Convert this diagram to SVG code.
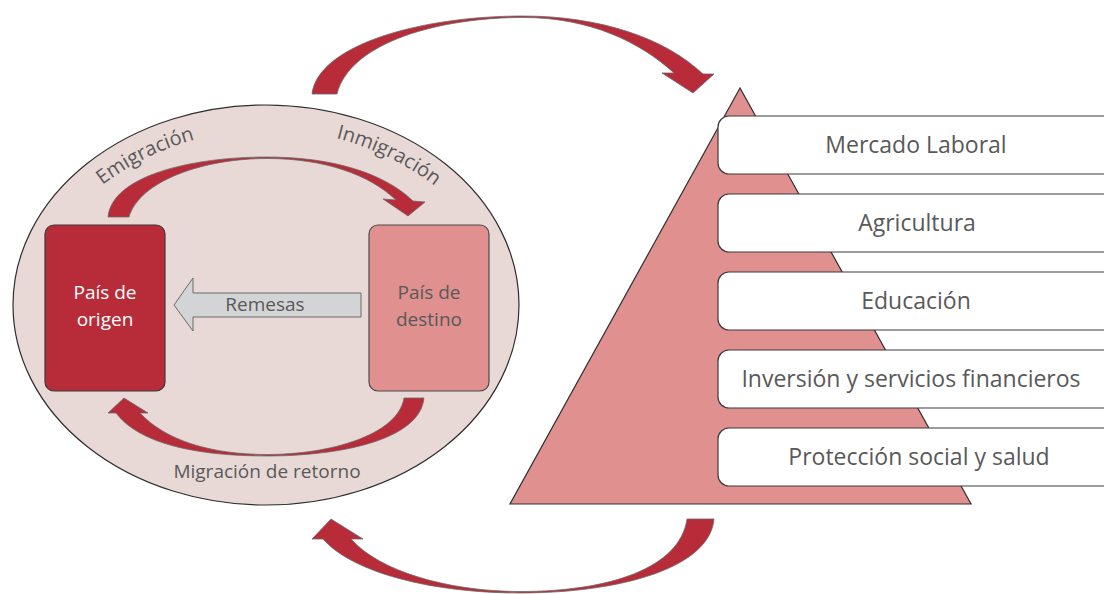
<svg xmlns="http://www.w3.org/2000/svg" width="1104" height="594" viewBox="0 0 1104 594">
<style>
.arc{fill:#B82B38;stroke:#6b6b6b;stroke-width:0.8}
.lbl{font-family:"Open Sans","Liberation Sans",sans-serif;fill:#595959}
.box{fill:#ffffff;stroke:#3a3a3a;stroke-width:1.2}
</style>
<defs>
<path id="tp" d="M96,190 A275,275 0 0 1 440,190"/>
</defs>
<rect width="1104" height="594" fill="#ffffff"/>
<g id="ciclo">
<ellipse cx="266" cy="305" rx="253" ry="200" fill="#E9D9D6" stroke="#2e2e2e" stroke-width="1.2"/>
</g>
<g id="pais-origen">
<rect x="45" y="225" width="120" height="166" rx="9" fill="#B82B38" stroke="#3a3a3a" stroke-width="1.2"/>
<text class="lbl" x="105" y="299" font-size="19" text-anchor="middle" style="fill:#ffffff">País de</text>
<text class="lbl" x="105" y="326" font-size="19" text-anchor="middle" style="fill:#ffffff">origen</text>
</g>
<g id="pais-destino">
<rect x="369" y="225" width="120" height="166" rx="9" fill="#DF908F" stroke="#4a4a4a" stroke-width="1.2"/>
<text class="lbl" x="429" y="299" font-size="19" text-anchor="middle">País de</text>
<text class="lbl" x="429" y="326" font-size="19" text-anchor="middle">destino</text>
</g>
<g id="remesas">
<polygon points="174,305 193,278 193,293 361,293 361,317 193,317 193,331" fill="#D3D4D6" stroke="#6b6b6b" stroke-width="1"/>
<text class="lbl" x="265" y="311" font-size="19" text-anchor="middle">Remesas</text>
</g>
<g id="piramide">
<polygon points="740,88 510,504 971,504" fill="#DF908F" stroke="#2e2e2e" stroke-width="1.2"/>
</g>
<g id="mercado-laboral">
<rect class="box" x="718" y="116" width="405" height="58" rx="11"/>
<text class="lbl" x="916" y="153" font-size="23" text-anchor="middle">Mercado Laboral</text>
</g>
<g id="agricultura">
<rect class="box" x="718" y="194" width="405" height="58" rx="11"/>
<text class="lbl" x="917" y="231" font-size="23" text-anchor="middle">Agricultura</text>
</g>
<g id="educacion">
<rect class="box" x="718" y="272" width="405" height="58" rx="11"/>
<text class="lbl" x="916" y="309" font-size="23" text-anchor="middle">Educación</text>
</g>
<g id="inversion">
<rect class="box" x="718" y="350" width="405" height="58" rx="11"/>
<text class="lbl" x="911" y="387" font-size="23" text-anchor="middle">Inversión y servicios financieros</text>
</g>
<g id="proteccion">
<rect class="box" x="718" y="428" width="405" height="58" rx="11"/>
<text class="lbl" x="919" y="465" font-size="23" text-anchor="middle">Protección social y salud</text>
</g>
<g id="connectors">
<path class="arc" d="M312,94 C318,45 420,16 523,16 C600,16 665,38 703,74 L714,74 L693,93 L662,73 L674,73 C640,42 590,17.5 523,17.5 C440,17.5 350,42 337,94 Z"/>
<path class="arc" d="M714,519 C710,568 620,593 520,593 C430,593 352,572 323,539 L312,539 L331,519 L363,539 L351,539 C380,572 450,591.5 520,591.5 C610,591.5 680,568 687,519 Z"/>
<path class="arc" d="M108,217 C112,176 190,157 267,157 C330,157 383,172 413,201 L425,202 L408,216 L383,199 L396,200 C370,175 325,158.5 267,158.5 C205,158.5 140,180 129,217 Z"/>
<path class="arc" d="M424,398 C420,440 340,456 267,456 C200,456 140,445 116,413 L108,413 L124,398 L148,413 L140,413 C165,440 210,454.5 267,454.5 C330,454.5 398,435 404,398 Z"/>
<text class="lbl" font-size="20"><textPath href="#tp" startOffset="8">Emigración</textPath></text>
<text class="lbl" font-size="20" text-anchor="end"><textPath href="#tp" startOffset="365">Inmigración</textPath></text>
<text class="lbl" x="267" y="478" font-size="19" text-anchor="middle">Migración de retorno</text>
</g>
</svg>
